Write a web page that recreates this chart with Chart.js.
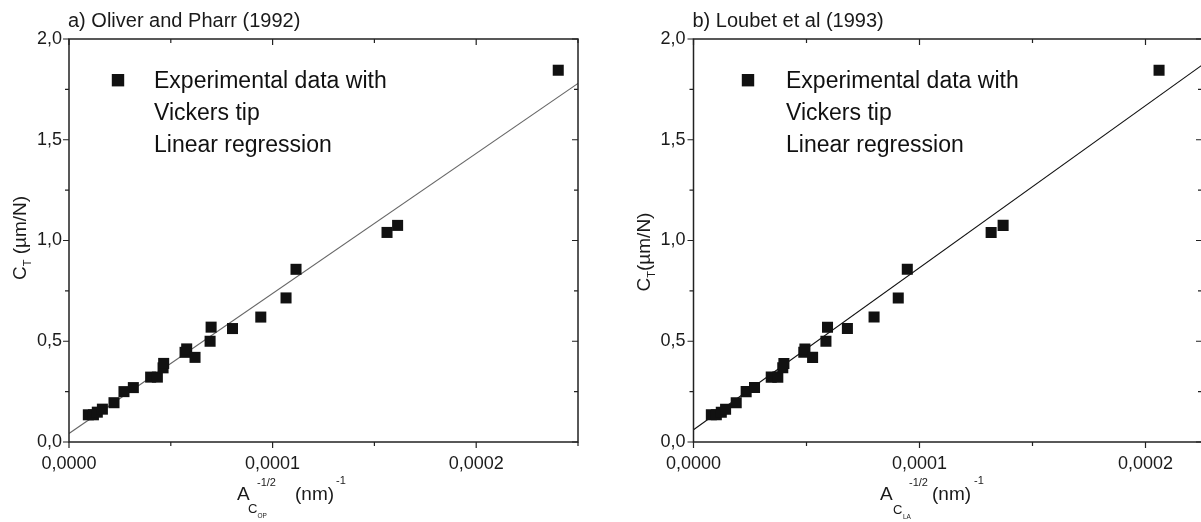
<!DOCTYPE html>
<html>
<head>
<meta charset="utf-8">
<script src="https://cdn.jsdelivr.net/npm/chart.js@4.4.1/dist/chart.umd.min.js"></script>
<style>
  html, body { margin: 0; padding: 0; background: #fff; overflow: hidden; width: 1201px; height: 522px; }
  canvas { position: absolute; top: 0; }
  #chartA { left: 0; }
  #chartB { left: 600px; }
</style>
</head>
<body>
<canvas id="chartA" width="600" height="522"></canvas>
<canvas id="chartB" width="610" height="522"></canvas>
<script>
// measured compliance C_T (µm/N), same for both panels
const ctValues = [0.135, 0.135, 0.148, 0.163, 0.195, 0.25, 0.27, 0.322, 0.322, 0.368, 0.39,
  0.445, 0.462, 0.42, 0.5, 0.57, 0.563, 0.62, 0.715, 0.857, 1.04, 1.075, 1.845];

// A^-1/2 with Oliver & Pharr contact area
const xOliverPharr = [0.0000095, 0.000012, 0.0000139, 0.0000164, 0.0000221, 0.000027, 0.0000316,
  0.0000401, 0.0000434, 0.0000462, 0.0000465, 0.000057, 0.0000578, 0.0000619, 0.0000693,
  0.0000698, 0.0000803, 0.0000942, 0.0001066, 0.0001115, 0.0001562, 0.0001614, 0.0002403];

// A^-1/2 with Loubet contact area
const xLoubet = [0.0000079, 0.0000101, 0.0000123, 0.0000142, 0.0000189, 0.0000233, 0.000027,
  0.0000344, 0.0000373, 0.0000395, 0.00004, 0.0000488, 0.0000493, 0.0000527, 0.0000586,
  0.0000593, 0.0000681, 0.0000799, 0.0000906, 0.0000946, 0.0001317, 0.000137, 0.000206];

// regression line end points
const fitOliverPharrX = [0, 0.00025];
const fitOliverPharrY = [0.042, 1.78];
const fitLoubetX = [0, 0.000225];
const fitLoubetY = [0.061, 1.87];

const yTicks = [0, 0.25, 0.5, 0.75, 1, 1.25, 1.5, 1.75, 2];
const yLabelTicks = [0, 0.5, 1, 1.5, 2];
const xTicks = [0, 0.00005, 0.0001, 0.00015, 0.0002, 0.00025];
const xLabelTicks = [0, 0.0001, 0.0002];

const legendLines = ["Experimental data with", "Vickers tip", "Linear regression"];

const FONT = "'Liberation Sans', Arial, sans-serif";

function isIn(list, v) {
  return list.some((t) => Math.abs(t - v) < 1e-9);
}

function drawParts(ctx, parts, x, y) {
  parts.forEach((p) => {
    ctx.font = `${p.size}px ${FONT}`;
    ctx.fillText(p.t, x + p.dx, y + (p.dy || 0));
  });
}

const frameAndTicks = {
  id: "frameAndTicks",
  afterDraw(chart) {
    const { ctx, chartArea: a, scales } = chart;
    const x = scales.x;
    const y = scales.y;
    ctx.save();
    ctx.strokeStyle = "#222";
    ctx.lineWidth = 1.5;
    ctx.strokeRect(a.left, a.top, a.right - a.left, a.bottom - a.top);

    ctx.lineWidth = 1.2;
    ctx.beginPath();
    xTicks.forEach((v) => {
      if (v > x.max + 1e-12) return;
      const px = x.getPixelForValue(v);
      const len = isIn(xLabelTicks, v) ? 6 : 4;
      ctx.moveTo(px, a.bottom);
      ctx.lineTo(px, a.bottom + len);
      ctx.moveTo(px, a.top);
      ctx.lineTo(px, a.top + len);
    });
    yTicks.forEach((v) => {
      const py = y.getPixelForValue(v);
      const len = isIn(yLabelTicks, v) ? 6 : 4;
      ctx.moveTo(a.left - len, py);
      ctx.lineTo(a.left, py);
      ctx.moveTo(a.right - len, py);
      ctx.lineTo(a.right, py);
    });
    ctx.stroke();
    ctx.restore();
  },
};

const panelText = {
  id: "panelText",
  afterDraw(chart, args, o) {
    const { ctx, chartArea: a } = chart;
    ctx.save();
    ctx.fillStyle = "#1a1a1a";
    ctx.textBaseline = "alphabetic";

    // panel title
    ctx.font = `20px ${FONT}`;
    ctx.fillText(o.title, a.left - 1, 27);

    // legend
    ctx.fillStyle = "#111";
    ctx.fillRect(o.legendSquareX - 6.2, 74, 12.4, 12.4);
    ctx.font = `23px ${FONT}`;
    legendLines.forEach((line, i) => {
      ctx.fillText(line, o.legendTextX, 88 + i * 31.8);
    });

    // x axis title
    ctx.fillStyle = "#1a1a1a";
    drawParts(ctx, o.xTitle, o.xTitleX, 500);

    // y axis title (rotated)
    ctx.translate(o.yTitleX, o.yTitleY);
    ctx.rotate(-Math.PI / 2);
    let w = 0;
    o.yTitle.forEach((p) => {
      ctx.font = `${p.size}px ${FONT}`;
      p.dx = w;
      w += ctx.measureText(p.t).width;
    });
    drawParts(ctx, o.yTitle, -w / 2, 6);
    ctx.restore();
  },
};

function makePanel(canvasId, cfg) {
  const canvas = document.getElementById(canvasId);
  const points = cfg.xData.map((v, i) => ({ x: v, y: ctValues[i] }));
  const fit = cfg.fitX.map((v, i) => ({ x: v, y: cfg.fitY[i] }));

  return new Chart(canvas.getContext("2d"), {
    type: "scatter",
    data: {
      datasets: [
        {
          label: legendLines.slice(0, 2).join(" "),
          data: points,
          pointStyle: "rect",
          pointRadius: 7.8,
          backgroundColor: "#111",
          borderWidth: 0,
          order: 1,
        },
        {
          label: legendLines[2],
          data: fit,
          showLine: true,
          pointRadius: 0,
          borderColor: cfg.fitColor,
          borderWidth: 1.1,
          order: 2,
        },
      ],
    },
    options: {
      responsive: false,
      animation: false,
      devicePixelRatio: 1,
      layout: {
        padding: { top: 39, left: 0, bottom: 0, right: canvas.width - cfg.areaRight },
      },
      plugins: {
        legend: { display: false },
        tooltip: { enabled: false },
        panelText: cfg.text,
      },
      scales: {
        x: {
          type: "linear",
          min: 0,
          max: cfg.xMax,
          grid: { display: false, drawTicks: false },
          border: { display: false },
          afterBuildTicks: (s) => {
            s.ticks = xTicks.filter((v) => v <= cfg.xMax + 1e-12).map((v) => ({ value: v }));
          },
          afterFit: (s) => {
            s.height = 522 - 442;
            s.paddingLeft = 0;
            s.paddingRight = 0;
          },
          ticks: {
            autoSkip: false,
            maxRotation: 0,
            padding: 11,
            color: "#1a1a1a",
            font: { family: FONT, size: 18 },
            callback: (v) => (isIn(xLabelTicks, v) ? v.toFixed(4).replace(".", ",") : ""),
          },
        },
        y: {
          type: "linear",
          min: 0,
          max: 2,
          grid: { display: false, drawTicks: false },
          border: { display: false },
          afterBuildTicks: (s) => {
            s.ticks = yTicks.map((v) => ({ value: v }));
          },
          afterFit: (s) => {
            s.width = cfg.areaLeft;
            s.paddingTop = 0;
            s.paddingBottom = 0;
          },
          ticks: {
            autoSkip: false,
            padding: cfg.yPad,
            color: "#1a1a1a",
            font: { family: FONT, size: 18 },
            callback: (v) => (isIn(yLabelTicks, v) ? v.toFixed(1).replace(".", ",") : ""),
          },
        },
      },
    },
    plugins: [frameAndTicks, panelText],
  });
}

makePanel("chartA", {
  xData: xOliverPharr,
  fitX: fitOliverPharrX,
  fitY: fitOliverPharrY,
  fitColor: "#666",
  xMax: 0.00025,
  areaLeft: 69,
  areaRight: 578,
  yPad: 7,
  text: {
    title: "a) Oliver and Pharr (1992)",
    legendSquareX: 118,
    legendTextX: 154,
    xTitleX: 237,
    xTitle: [
      { t: "A", size: 19, dx: 0 },
      { t: "C", size: 13, dx: 11, dy: 13 },
      { t: "OP", size: 6.5, dx: 20.5, dy: 18 },
      { t: "-1/2", size: 11, dx: 20, dy: -14 },
      { t: "(nm)", size: 19, dx: 58 },
      { t: "-1", size: 11, dx: 99, dy: -16 },
    ],
    yTitleX: 20,
    yTitleY: 238,
    yTitle: [
      { t: "C", size: 19 },
      { t: "T", size: 11, dy: 5 },
      { t: " (µm/N)", size: 19 },
    ],
  },
});

makePanel("chartB", {
  xData: xLoubet,
  fitX: fitLoubetX,
  fitY: fitLoubetY,
  fitColor: "#111",
  xMax: 0.000225,
  areaLeft: 93.5,
  areaRight: 602,
  yPad: 8,
  text: {
    title: "b) Loubet et al (1993)",
    legendSquareX: 148,
    legendTextX: 186,
    xTitleX: 280,
    xTitle: [
      { t: "A", size: 19, dx: 0 },
      { t: "C", size: 13, dx: 13, dy: 14 },
      { t: "LA", size: 6.5, dx: 23, dy: 19 },
      { t: "-1/2", size: 11, dx: 29, dy: -14 },
      { t: "(nm)", size: 19, dx: 52 },
      { t: "-1", size: 11, dx: 94, dy: -16 },
    ],
    yTitleX: 43.5,
    yTitleY: 252,
    yTitle: [
      { t: "C", size: 19 },
      { t: "T", size: 11, dy: 5 },
      { t: "(µm/N)", size: 19 },
    ],
  },
});
</script>
</body>
</html>
